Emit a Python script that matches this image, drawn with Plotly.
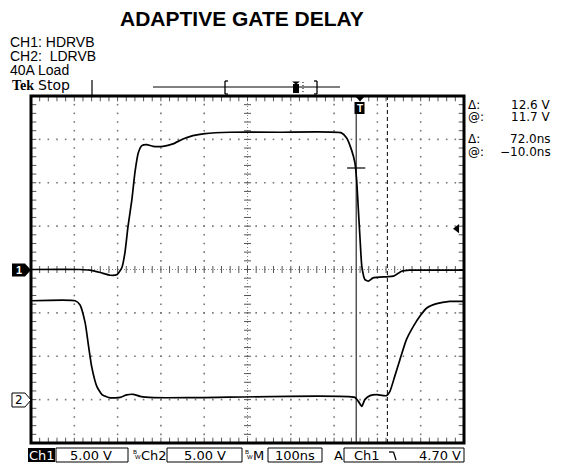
import plotly.graph_objects as go

# ---------------- data ----------------
TITLE = "ADAPTIVE GATE DELAY"
INFO_LINES = ["CH1: HDRVB", "CH2:\u00a0\u00a0LDRVB", "40A Load"]

ch1_time_ns = [-500, -387, -364, -340, -317, -301, -290, -283, -276, -267, -260, -252,
               -244, -233, -218, -195, -172, -149, -126, -98, -40, 75, 217, 229, 240,
               248, 252, 256, 260, 264, 271, 279, 290, 321, 337, 356, 375, 500]
ch1_volts = [0.0, 0.0, -0.08, -0.35, -0.66, -0.58, 0.23, 1.96, 4.95, 8.06, 11.17, 13.48,
             14.28, 14.40, 14.20, 14.20, 14.48, 15.05, 15.44, 15.67, 15.82, 15.82, 15.75,
             15.17, 13.82, 12.33, 10.37, 6.91, 3.46, 0.38, -1.15, -1.35, -0.96, -0.84,
             -0.77, -0.20, -0.08, -0.08]

ch2_time_ns = [-500, -398, -387, -375, -367, -360, -348, -336, -317, -294, -279, -264,
               -248, -218, -110, 248, 256, 264, 271, 283, 298, 321, 329, 340, 352, 367,
               383, 398, 414, 437, 467, 500]
ch2_volts = [11.40, 11.40, 10.94, 8.87, 6.14, 3.84, 1.53, 0.58, 0.20, 0.26, 0.54, 0.61,
             0.38, 0.23, 0.23, 0.26, -0.20, -0.77, 0.0, 0.46, 0.58, 0.46, 0.96, 2.68,
             4.61, 6.91, 8.44, 9.60, 10.56, 11.06, 11.32, 11.32]

VOLTS_PER_DIV = 5.0
NS_PER_DIV = 100.0
CH1_POS_DIV = 0.0
CH2_POS_DIV = -3.0
cursor_times_ns = [251, 323]
cursor_level_v = 11.7
trigger_level_v = 4.70

readout_labels = ["\u0394:", "@:", "\u0394:", "@:"]
readout_values = ["12.6 V", "11.7 V", "72.0ns", "\u221210.0ns"]
status_ch1_scale = "5.00 V"
status_ch2_scale = "5.00 V"
status_timebase = "100ns"
status_trig_level = "4.70 V"

# ---------------- geometry helpers ----------------
W, H = 567, 466
L, R, T, B = 31, 103, 96, 23
PW, PH = W - L - R, H - T - B


def PX(X):
    return (X - L) / PW


def PY(Y):
    return (H - B - Y) / PH


FONT = "Liberation Sans, Arial, Helvetica, sans-serif"
SCOPE_FONT = "DejaVu Sans, Verdana, sans-serif"

fig = go.Figure()

# ---------------- graticule ----------------
gx, gy = [], []
for k in range(-4, 5):
    if k == 0:
        continue
    for j in range(1, 40):
        gx.append(k * NS_PER_DIV)
        gy.append(-4 + j * 0.2)
for k in range(-3, 4):
    if k == 0:
        continue
    for j in range(1, 50):
        gx.append(-500 + j * 20)
        gy.append(k)
fig.add_trace(go.Scatter(x=gx, y=gy, mode="markers", hoverinfo="skip",
                         marker=dict(symbol="square", size=1.6, color="#777",
                                     line=dict(width=0))))

# center cross ticks
cy = [-4 + j * 0.2 for j in range(1, 40)]
cx = [-500 + j * 20 for j in range(1, 50)]
fig.add_trace(go.Scatter(x=[0] * len(cy), y=cy, mode="markers", hoverinfo="skip",
                         marker=dict(symbol="line-ew", size=5,
                                     line=dict(width=1, color="#555"))))
fig.add_trace(go.Scatter(x=cx, y=[0] * len(cx), mode="markers", hoverinfo="skip",
                         marker=dict(symbol="line-ns", size=5,
                                     line=dict(width=1, color="#555"))))
# border ticks
off_y = 2.5 / 43.4
off_x = 2.5 / 0.433
fig.add_trace(go.Scatter(x=cx + cx, y=[4 - off_y] * len(cx) + [-4 + off_y] * len(cx),
                         mode="markers", hoverinfo="skip",
                         marker=dict(symbol="line-ns", size=4,
                                     line=dict(width=1, color="#555"))))
fig.add_trace(go.Scatter(x=[-500 + off_x] * len(cy) + [500 - off_x] * len(cy), y=cy + cy,
                         mode="markers", hoverinfo="skip",
                         marker=dict(symbol="line-ew", size=4,
                                     line=dict(width=1, color="#555"))))

# ---------------- waveforms ----------------
fig.add_trace(go.Scatter(x=ch1_time_ns, y=[v / VOLTS_PER_DIV + CH1_POS_DIV for v in ch1_volts],
                         mode="lines", line=dict(color="black", width=1.7, shape="spline",
                                                 smoothing=0.5), hoverinfo="skip"))
fig.add_trace(go.Scatter(x=ch2_time_ns, y=[v / VOLTS_PER_DIV + CH2_POS_DIV for v in ch2_volts],
                         mode="lines", line=dict(color="black", width=1.7, shape="spline",
                                                 smoothing=0.5), hoverinfo="skip"))

# cursor level marker and trigger level arrow
fig.add_trace(go.Scatter(x=[cursor_times_ns[0]], y=[cursor_level_v / VOLTS_PER_DIV + CH1_POS_DIV],
                         mode="markers", hoverinfo="skip",
                         marker=dict(symbol="line-ew", size=13, line=dict(width=1.2, color="black"))))
fig.add_trace(go.Scatter(x=[484], y=[trigger_level_v / VOLTS_PER_DIV + CH1_POS_DIV],
                         mode="markers", hoverinfo="skip",
                         marker=dict(symbol="triangle-left", size=8, color="black")))

shapes = []
# center dotted lines
shapes.append(dict(type="line", xref="x", yref="paper", x0=0, x1=0, y0=0, y1=1,
                   line=dict(color="#888", width=1, dash="1px,2px"), layer="below"))
shapes.append(dict(type="line", xref="paper", yref="y", x0=0, x1=1, y0=0, y1=0,
                   line=dict(color="#888", width=1, dash="1px,2px"), layer="below"))
# cursors
shapes.append(dict(type="line", xref="x", yref="paper", x0=cursor_times_ns[0], x1=cursor_times_ns[0],
                   y0=0, y1=PY(113), line=dict(color="black", width=1)))
shapes.append(dict(type="line", xref="x", yref="paper", x0=cursor_times_ns[1], x1=cursor_times_ns[1],
                   y0=0, y1=1, line=dict(color="black", width=1, dash="4px,3px")))
# frame
shapes.append(dict(type="rect", xref="paper", yref="paper", x0=0, x1=1, y0=0, y1=1,
                   line=dict(color="black", width=3), layer="above"))


def pline(x0, y0, x1, y1, w=1, dash=None):
    ln = dict(color="black", width=w)
    if dash:
        ln["dash"] = dash
    shapes.append(dict(type="line", xref="paper", yref="paper", x0=PX(x0), y0=PY(y0),
                       x1=PX(x1), y1=PY(y1), line=ln, layer="above"))


def prect(x0, y0, x1, y1, fill="black", lw=0):
    shapes.append(dict(type="rect", xref="paper", yref="paper", x0=PX(x0), y0=PY(y0),
                       x1=PX(x1), y1=PY(y1), fillcolor=fill,
                       line=dict(color="black", width=lw), layer="above"))


def ppath(pts, fill="black", lw=0):
    d = "M " + " L ".join(f"{PX(a):.5f},{PY(b):.5f}" for a, b in pts) + " Z"
    shapes.append(dict(type="path", xref="paper", yref="paper", path=d, fillcolor=fill,
                       line=dict(color="black", width=lw), layer="above"))


# top status bar
pline(92, 80, 92, 95, 1.2)
pline(153, 87, 340, 87, 1)
pline(225, 81, 225, 94, 1.3); pline(225, 81, 228, 81, 1.3); pline(225, 94, 228, 94, 1.3)
pline(317, 81, 317, 94, 1.3); pline(314, 81, 317, 81, 1.3); pline(314, 94, 317, 94, 1.3)
prect(293, 84, 299, 93)
ppath([(292, 81.5), (300, 81.5), (296, 84.5)])
pline(303, 82, 303, 93, 1, "1px,2px")
# trigger position marker
ppath([(355, 96), (365, 96), (360, 101.5)])
ppath([(354.5, 102), (364.5, 102), (364.5, 114), (354.5, 114)])

# channel ground markers
ch1_y = 270
ppath([(12, ch1_y - 6.5), (25, ch1_y - 6.5), (31, ch1_y), (25, ch1_y + 6.5), (12, ch1_y + 6.5)])
ch2_y = 400
ppath([(12, ch2_y - 7), (25, ch2_y - 7), (31, ch2_y), (25, ch2_y + 7), (12, ch2_y + 7)],
      fill="white", lw=1)

# bottom status bar
prect(28, 448, 55, 462)
prect(56, 448, 128, 462, fill="rgba(0,0,0,0)", lw=1)
prect(167, 448, 242, 462, fill="rgba(0,0,0,0)", lw=1)
prect(268, 448, 322, 462, fill="rgba(0,0,0,0)", lw=1)
prect(344, 448, 464, 462, fill="rgba(0,0,0,0)", lw=1)
pline(389, 452, 393.5, 452, 1.3)
pline(393.5, 452, 396, 460, 1.3)

annotations = []


def ann(text, X, Y, size=13, color="black", xa="left", ya="middle", family=FONT):
    annotations.append(dict(text=text, x=PX(X), y=PY(Y), xref="paper", yref="paper",
                            xanchor=xa, yanchor=ya, showarrow=False,
                            font=dict(size=size, color=color, family=family),
                            borderpad=0))


ann("<b>" + TITLE + "</b>", 242, 18, size=21, xa="center")
for i, line in enumerate(INFO_LINES):
    ann(line, 9, 42 + 14.2 * i, size=14)
ann("<b>Tek</b>", 11, 85, size=14, family="Liberation Serif, Times New Roman, serif")
ann("Stop", 37, 85, size=14, family=SCOPE_FONT)

ry = [105, 116.5, 139, 151.5]
for lab, val, y in zip(readout_labels, readout_values, ry):
    ann(lab, 467, y, size=12, family=SCOPE_FONT)
    ann(val, 552, y, size=12, xa="right", family=SCOPE_FONT)

ann("<b>1</b>", 19, ch1_y, size=11, color="white", xa="center")
ann("2", 19, ch2_y, size=12, xa="center", family=SCOPE_FONT)
ann("<b>T</b>", 359.5, 108, size=10, color="white", xa="center")

SB = 13
ann("Ch1", 41.5, 455, size=SB, color="white", xa="center", family=SCOPE_FONT)
ann(status_ch1_scale, 91, 455, size=SB, xa="center", family=SCOPE_FONT)
ann("B", 132, 452, size=6)
ann("W", 134, 457, size=6)
ann("Ch2", 154, 455, size=SB, xa="center", family=SCOPE_FONT)
ann(status_ch2_scale, 205, 455, size=SB, xa="center", family=SCOPE_FONT)
ann("B", 244, 452, size=6)
ann("W", 246, 457, size=6)
ann("M", 258, 455, size=SB, xa="center", family=SCOPE_FONT)
ann(status_timebase, 295, 455, size=SB, xa="center", family=SCOPE_FONT)
ann("A", 338, 455, size=SB, xa="center", family=SCOPE_FONT)
ann("Ch1", 367, 455, size=SB, xa="center", family=SCOPE_FONT)
ann(status_trig_level, 462, 455, size=SB, xa="right", family=SCOPE_FONT)

fig.update_layout(
    width=W, height=H,
    margin=dict(l=L, r=R, t=T, b=B),
    paper_bgcolor="white", plot_bgcolor="white",
    showlegend=False,
    xaxis=dict(range=[-5 * NS_PER_DIV, 5 * NS_PER_DIV], visible=False, fixedrange=True),
    yaxis=dict(range=[-4, 4], visible=False, fixedrange=True),
    shapes=shapes,
    annotations=annotations,
    font=dict(family=FONT, color="black"),
)

fig.write_html("out.html", config={"displayModeBar": False},
               post_script="document.body.style.margin='0';document.body.style.overflow='hidden';")
